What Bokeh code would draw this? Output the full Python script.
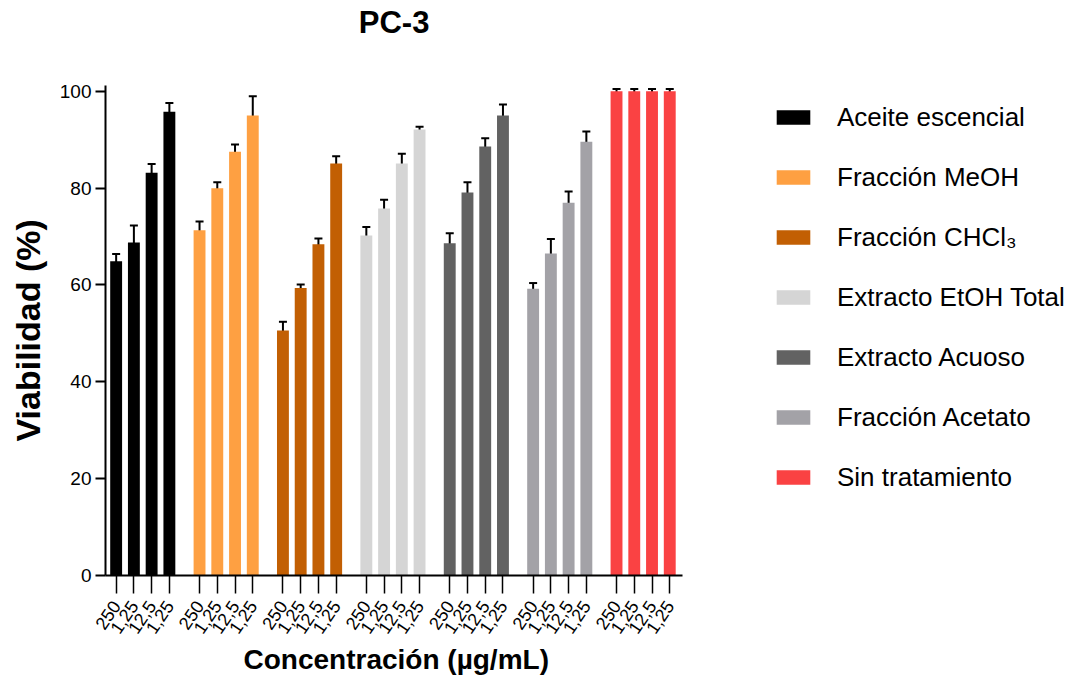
import math
from bokeh.plotting import figure
from bokeh.models import (ColumnDataSource, Whisker, TeeHead, FixedTicker, Legend,
                          LegendItem, Range1d, Title, Label)
from bokeh.embed import file_html
from bokeh.resources import INLINE

groups = ["Aceite escencial", "Fracción MeOH", "Fracción CHCl₃", "Extracto EtOH Total",
          "Extracto Acuoso", "Fracción Acetato", "Sin tratamiento"]
concentrations = ["250", "1,25", "12,5", "1,25"]
colors = ["#000000", "#FEA042", "#C25F03", "#D5D5D5", "#626262", "#A3A2A7", "#FA4243"]

aceite = [64.9, 68.8, 83.2, 95.8]
aceite_err = [1.5, 3.5, 1.8, 1.8]
meoh = [71.3, 80.0, 87.5, 95.0]
meoh_err = [1.8, 1.2, 1.5, 4.0]
chcl3 = [50.6, 59.4, 68.4, 85.1]
chcl3_err = [1.8, 0.7, 1.2, 1.5]
etoh = [70.2, 75.8, 85.1, 92.1]
etoh_err = [1.8, 1.8, 2.0, 0.6]
acuoso = [68.6, 79.1, 88.6, 95.0]
acuoso_err = [2.1, 2.1, 1.7, 2.3]
acetato = [59.2, 66.5, 77.0, 89.6]
acetato_err = [1.2, 3.0, 2.3, 2.1]
sin_trat = [100.0, 100.0, 100.0, 100.0]
sin_trat_err = [0.5, 0.5, 0.5, 0.5]

values = [aceite, meoh, chcl3, etoh, acuoso, acetato, sin_trat]
errors = [aceite_err, meoh_err, chcl3_err, etoh_err, acuoso_err, acetato_err, sin_trat_err]

GROUP_PITCH = 47
BAR_PITCH = 10
BAR_W = 6.7

FONT = "Liberation Sans"

W, H = 1072, 678
LEFT, TOP, BOTTOM = 102, 0, 103
AXIS_PX = 579                      # pixel length of the x axis line
AXIS_PY = 490                      # pixel length of the y axis line
Y_TOP = 101.2
x_lo = -6
x_hi = 6 * GROUP_PITCH + 3 * BAR_PITCH + 7.3
ppu = AXIS_PX / (x_hi - x_lo)
x_end = x_lo + (W - LEFT) / ppu
ppu_y = AXIS_PY / Y_TOP
frame_h = H - TOP - BOTTOM
y_end = frame_h / ppu_y

p = figure(width=W, height=H, output_backend="svg", toolbar_location=None,
           x_range=Range1d(x_lo, x_end),
           y_range=Range1d(0, y_end),
           min_border_left=LEFT, min_border_right=0, min_border_top=TOP,
           min_border_bottom=BOTTOM)
p.outline_line_color = None
p.xgrid.visible = False
p.ygrid.visible = False
p.background_fill_color = "white"

items = []
ticks = []
overrides = {}
for g, (name, vals, errs, col) in enumerate(zip(groups, values, errors, colors)):
    xs = [g * GROUP_PITCH + i * BAR_PITCH for i in range(len(vals))]
    for x, lab in zip(xs, concentrations):
        ticks.append(x)
        overrides[x] = lab
    src = ColumnDataSource(dict(x=xs, top=vals,
                                upper=[v + e for v, e in zip(vals, errs)],
                                lower=[v - e for v, e in zip(vals, errs)]))
    r = p.vbar(x="x", top="top", width=BAR_W, bottom=0, source=src,
               fill_color=col, line_color=None)
    items.append(LegendItem(label=name, renderers=[r]))
    w = Whisker(base="x", upper="upper", lower="lower", source=src,
                line_color="black", line_width=2,
                upper_head=TeeHead(size=8, line_width=2, line_color="black"),
                lower_head=TeeHead(size=8, line_width=2, line_color="black"))
    p.add_layout(w)

# chart title, inside the (extended) frame above the bars
title = Label(x=(x_lo + x_hi) / 2, y=(frame_h - 22) / ppu_y, text="PC-3",
              text_align="center", text_baseline="middle",
              text_font=FONT, text_font_size="31px", text_font_style="bold",
              text_color="black")
p.add_layout(title)

# y axis
p.yaxis.bounds = (0, Y_TOP)
p.yaxis.ticker = FixedTicker(ticks=[0, 20, 40, 60, 80, 100])
p.yaxis.major_label_text_font = FONT
p.yaxis.major_label_text_font_size = "19px"
p.yaxis.major_label_text_color = "black"
p.yaxis.major_label_standoff = 4
p.yaxis.major_tick_out = 10
p.yaxis.major_tick_in = 0
p.yaxis.minor_tick_out = 0
p.yaxis.minor_tick_in = 0
p.yaxis.axis_line_width = 2
p.yaxis.major_tick_line_width = 2

ylabel = Title(text="Viabilidad (%)", align="left", offset=134,
               text_font=FONT, text_font_size="34px", text_font_style="bold",
               text_color="black", standoff=16, vertical_align="top")
p.add_layout(ylabel, "left")

# x axis
p.xaxis.bounds = (x_lo, x_hi)
p.xaxis.ticker = FixedTicker(ticks=ticks)
p.xaxis.major_label_overrides = overrides
p.xaxis.major_label_orientation = math.radians(56)
p.xaxis.major_label_text_font = FONT
p.xaxis.major_label_text_font_size = "18px"
p.xaxis.major_label_text_color = "black"
p.xaxis.major_label_standoff = 9
p.xaxis.major_tick_out = 18
p.xaxis.major_tick_in = 0
p.xaxis.minor_tick_out = 0
p.xaxis.minor_tick_in = 0
p.xaxis.axis_line_width = 2
p.xaxis.major_tick_line_width = 1.5

xlabel = Title(text="Concentración (µg/mL)", align="left", offset=138,
               text_font=FONT, text_font_size="28px", text_font_style="bold",
               text_color="black", standoff=0)
p.add_layout(xlabel, "below")

legend = Legend(items=items, location=(667, 82), orientation="vertical",
                glyph_width=42, glyph_height=18, label_height=32, spacing=28,
                label_standoff=23, padding=0, margin=0,
                label_text_font=FONT, label_text_font_size="26px",
                label_text_color="black",
                border_line_color=None, background_fill_alpha=0)
p.add_layout(legend, "center")

open("out.html", "w").write(file_html(p, INLINE))
